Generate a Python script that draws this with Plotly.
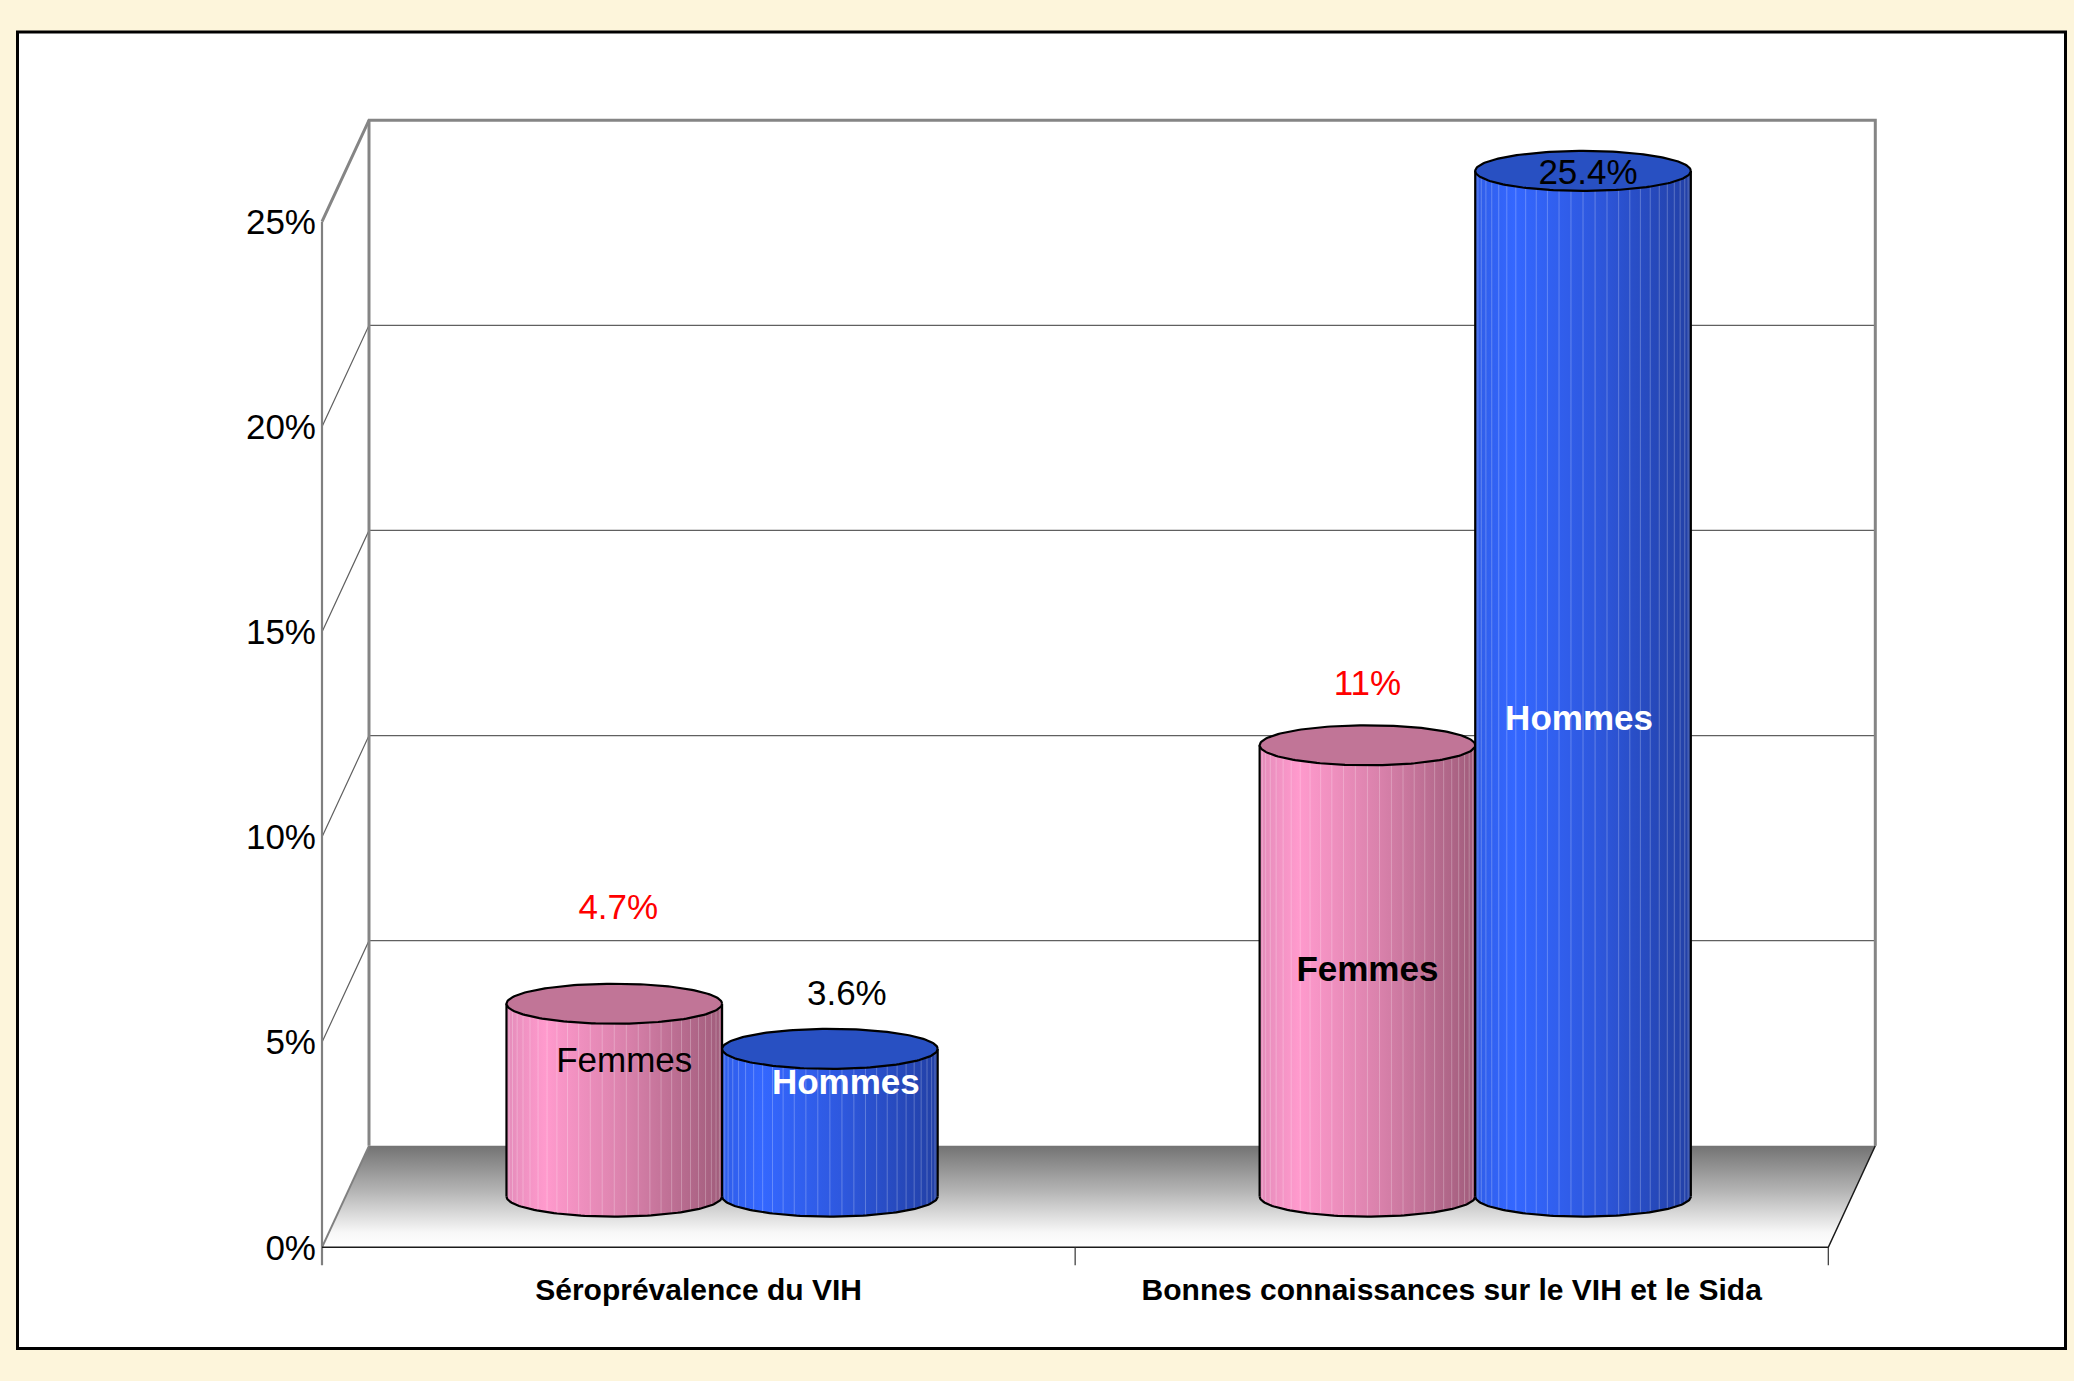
import numpy as np
import plotly.graph_objects as go

# ---------------- data ----------------
categories = ["Séroprévalence du VIH", "Bonnes connaissances sur le VIH et le Sida"]
series_names = ["Femmes", "Hommes"]
femmes = [4.7, 11.0]
hommes = [3.6, 25.4]
y_ticks = [0, 5, 10, 15, 20, 25]
y_tick_labels = ["0%", "5%", "10%", "15%", "20%", "25%"]

# ---------------- layout / style ----------------
FIG_W, FIG_H = 2074, 1381
PX_X0, PX_X2 = 322.0, 1828.3      # pixel of front-floor left/right edge
PX_Y0, PX_Y25 = 1247.3, 221.7     # pixel of 0% and 25% on the front axis
DEPTH_PX = (47.0, 101.5)          # 3-D depth offset in pixels (right, up)
CYL_HALF_W_PX = 107.8
CYL_RY_PX = 20.0
TICK_DOWN_PX = 18.0
FONT = "Liberation Sans, Arial, sans-serif"
LABEL_SIZE = 35

n_cat = len(categories)
sx = (PX_X2 - PX_X0) / n_cat
y_max = y_ticks[-1]
sy = (PX_Y0 - PX_Y25) / y_max
x_range = [-PX_X0 / sx, (FIG_W - PX_X0) / sx]
y_range = [-(FIG_H - PX_Y0) / sy, PX_Y0 / sy]
ddx, ddy = DEPTH_PX[0] / sx, DEPTH_PX[1] / sy
hw = CYL_HALF_W_PX / sx
ry = CYL_RY_PX / sy
tick_down = TICK_DOWN_PX / sy

series_values = [femmes, hommes]
side_colors = [
    [[0, "#E48CBA"], [0.18, "#FF9ACD"], [0.55, "#DA82AC"], [1, "#A05C7B"]],
    [[0, "#2F5DE8"], [0.18, "#3467FF"], [0.55, "#2E58DF"], [1, "#2240A6"]],
]
top_colors = ["#C17597", "#2850C2"]

# label offsets relative to top-centre of each cylinder (px: right, up)
value_label_style = {  # (cat, series): (dx, dy, color)
    (0, 0): (4, 93, "#FF0000"),
    (0, 1): (17, 53, "#000000"),
    (1, 0): (0, 59, "#FF0000"),
    (1, 1): (5, -4, "#000000"),
}
name_label_style = {  # (cat, series): (dx, dy, color, bold)
    (0, 0): (10, -60, "#000000", False),
    (0, 1): (16, -36, "#FFFFFF", True),
    (1, 0): (0, -227, "#000000", True),
    (1, 1): (-4, -550, "#FFFFFF", True),
}

fig = go.Figure()

# ---------------- floor ----------------
fig.add_trace(go.Scatter(
    x=[0, n_cat, n_cat + ddx, ddx, 0], y=[0, 0, ddy, ddy, 0],
    mode="lines", fill="toself", line=dict(width=0),
    fillgradient=dict(type="vertical",
                      colorscale=[[0, "#FFFFFF"], [0.15, "#F7F7F7"], [0.55, "#B5B5B5"], [1, "#737373"]]),
    hoverinfo="skip"))

def add_line(xs, ys, color, width):
    fig.add_trace(go.Scatter(x=xs, y=ys, mode="lines",
                             line=dict(color=color, width=width),
                             hoverinfo="skip"))

# gridlines on side + back wall
gx, gy = [], []
for v in y_ticks[1:-1]:
    gx += [0, ddx, n_cat + ddx, None]
    gy += [v, v + ddy, v + ddy, None]
add_line(gx, gy, "#606060", 1.2)

# wall frame (gray)
add_line([0, ddx, n_cat + ddx, n_cat + ddx], [y_max, y_max + ddy, y_max + ddy, ddy], "#858585", 3)
add_line([ddx, ddx], [ddy, y_max + ddy], "#858585", 3)
add_line([0, 0], [-tick_down, y_max], "#808080", 2.2)
add_line([0, ddx], [0, ddy], "#808080", 2)

# front floor edges (black)
add_line([0, n_cat, n_cat + ddx], [0, 0, ddy], "#1A1A1A", 1.5)
bx, by = [], []
for k in range(1, n_cat + 1):
    bx += [k, k, None]
    by += [0, -tick_down, None]
add_line(bx, by, "#333333", 1.2)

# ---------------- cylinders ----------------
t_full = np.linspace(0, 2 * np.pi, 181)
t_low = np.linspace(np.pi, 2 * np.pi, 91)
facet_t = np.linspace(np.pi, 2 * np.pi, 29)[1:-1]

for ci in range(n_cat):
    c = ci + 0.5
    for si, vals in enumerate(series_values):
        v = vals[ci]
        xc = c + (2 * si - 1) * hw + ddx / 2
        yb = ddy / 2
        yt = yb + min(v, y_max)
        # body
        bxs = list(xc + hw * np.cos(t_low)) + list(xc + hw * np.cos(t_low[::-1]))
        bys = list(yb + ry * np.sin(t_low)) + list(yt + ry * np.sin(t_low[::-1]))
        fig.add_trace(go.Scatter(
            x=bxs + [bxs[0]], y=bys + [bys[0]], mode="lines", fill="toself",
            line=dict(width=0),
            fillgradient=dict(type="horizontal", colorscale=side_colors[si]),
            hoverinfo="skip"))
        # facet stripes
        fx, fy = [], []
        for t in facet_t:
            fx += [xc + hw * np.cos(t)] * 2 + [None]
            fy += [yb + ry * np.sin(t), yt + ry * np.sin(t), None]
        add_line(fx, fy, "rgba(255,255,255,0.25)", 1)
        # outline
        ox = [xc - hw, xc - hw, None, xc + hw, xc + hw, None] + list(xc + hw * np.cos(t_low))
        oy = [yb, yt, None, yb, yt, None] + list(yb + ry * np.sin(t_low))
        add_line(ox, oy, "#000000", 2.2)
        # top ellipse
        fig.add_trace(go.Scatter(
            x=xc + hw * np.cos(t_full), y=yt + ry * np.sin(t_full),
            mode="lines", fill="toself", fillcolor=top_colors[si],
            line=dict(color="#000000", width=2.2), hoverinfo="skip"))

# ---------------- labels ----------------
for ci in range(n_cat):
    c = ci + 0.5
    for si, vals in enumerate(series_values):
        v = vals[ci]
        xc = c + (2 * si - 1) * hw + ddx / 2
        yt = ddy / 2 + min(v, y_max)
        dx, dy, col = value_label_style[(ci, si)]
        fig.add_trace(go.Scatter(
            x=[xc + dx / sx], y=[yt + dy / sy], mode="text",
            text=[f"{v:g}%"], textposition="middle center",
            textfont=dict(family=FONT, size=LABEL_SIZE, color=col), hoverinfo="skip"))
        dx, dy, col, bold = name_label_style[(ci, si)]
        name = series_names[si]
        fig.add_trace(go.Scatter(
            x=[xc + dx / sx], y=[yt + dy / sy], mode="text",
            text=[f"<b>{name}</b>" if bold else name], textposition="middle center",
            textfont=dict(family=FONT, size=LABEL_SIZE, color=col), hoverinfo="skip"))

# ---------------- axes ----------------
fig.update_layout(
    width=FIG_W, height=FIG_H, autosize=False,
    margin=dict(l=0, r=0, t=0, b=0),
    paper_bgcolor="#FDF5DB", plot_bgcolor="rgba(0,0,0,0)",
    showlegend=False,
    font=dict(family=FONT, color="#000000"),
    xaxis=dict(range=x_range, showgrid=False, zeroline=False, showline=False,
               tickmode="array", tickvals=[i + 0.5 for i in range(n_cat)],
               ticktext=[f"<b>{c}</b>" for c in categories], ticks="",
               tickfont=dict(family=FONT, size=30, color="#000000"),
               anchor="free", position=(FIG_H - PX_Y0) / FIG_H,
               ticklabelstandoff=22, fixedrange=True),
    yaxis=dict(range=y_range, showgrid=False, zeroline=False, showline=False,
               tickmode="array", tickvals=y_ticks, ticktext=y_tick_labels, ticks="",
               tickfont=dict(family=FONT, size=35, color="#000000"),
               anchor="free", position=PX_X0 / FIG_W,
               ticklabelstandoff=6, fixedrange=True),
    shapes=[dict(type="rect", xref="paper", yref="paper",
                 x0=17.5 / FIG_W, x1=2065.5 / FIG_W,
                 y0=1 - 1348.5 / FIG_H, y1=1 - 32 / FIG_H,
                 line=dict(color="#000000", width=3), fillcolor="#FFFFFF",
                 layer="below")],
)

fig.write_html("out.html", config={"displayModeBar": False, "staticPlot": True},
               post_script="document.body.style.margin='0';document.body.style.overflow='hidden';")
